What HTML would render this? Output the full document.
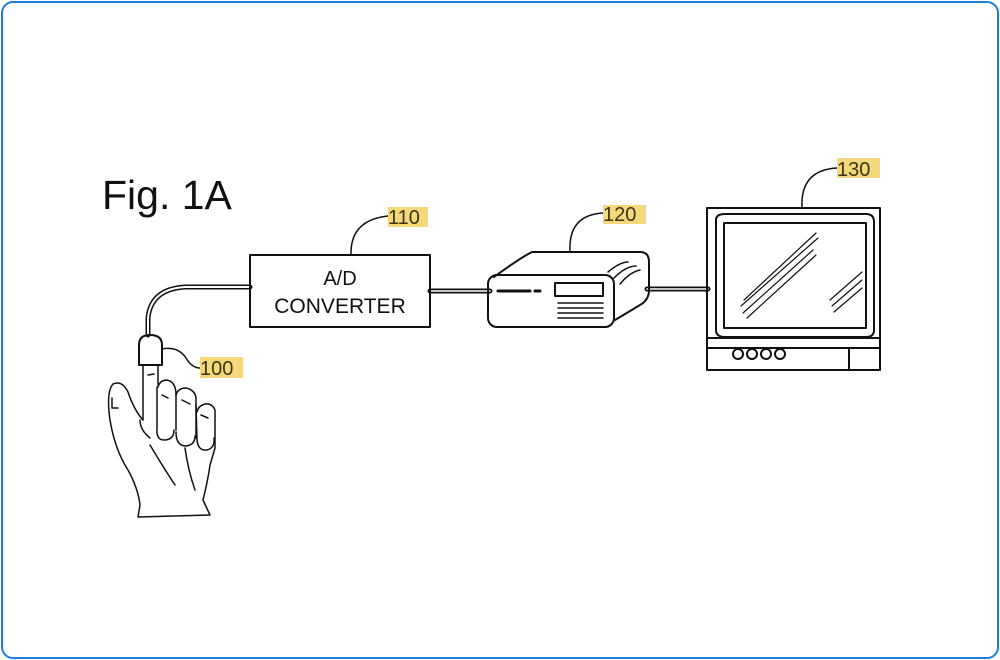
<!DOCTYPE html>
<html><head><style>
html,body{margin:0;padding:0;background:#fff;}
.wrap{position:absolute;left:1px;top:1px;width:994px;height:654px;border:2px solid #1a7fe0;border-radius:12px;background:#fff;}
svg{position:absolute;left:0;top:0;}
text{font-family:"Liberation Sans",sans-serif;}
</style></head><body>
<div class="wrap"></div>
<svg width="1000" height="660" viewBox="0 0 1000 660">
<g fill="none" stroke="#111" stroke-width="2" stroke-linecap="round" stroke-linejoin="round">
<path d="M250 287 L185 287 Q151 289 148 318 L148 335" stroke-width="5"/>
<path d="M250 287 L185 287 Q151 289 148 318 L148 335" stroke="#fff" stroke-width="2"/>
<path d="M430 291 L490 291" stroke-width="5"/><path d="M430 291 L490 291" stroke="#fff" stroke-width="1.5"/>
<path d="M647 289 L708 289" stroke-width="5"/><path d="M647 289 L708 289" stroke="#fff" stroke-width="1.5"/>
<rect x="250" y="255" width="180" height="72"/>
<path d="M351 255 Q350 220 388 216" stroke-width="1.5"/>
<path d="M162 349 Q178 346 186 358 Q192 368 200 368" stroke-width="1.5"/>
<path d="M570 252 Q568 215 603 213" stroke-width="1.5"/>
<path d="M802 208 Q800 170 837 168" stroke-width="1.5"/>
<path d="M139 365 L139 345 Q139 335 150 335 Q162 335 162 345 L162 365 Z"/>
<g stroke-width="1.5">
<path d="M143 365 L143 420 M158 365 L158 385"/>
<path d="M148 375 L154 374"/>
<path d="M143 420 Q134 410 128 392 Q122 380 113 384 Q106 392 110 420 Q115 450 128 470 Q138 488 140 505 L138 517 L210 515 L203 500 Q208 480 210 465 L215 448 L215 410 Q212 403 205 404 Q198 406 197 412"/>
<path d="M112 398 L112 408 L118 408"/>
<path d="M158 387 Q160 380 167 380 Q176 382 176 395 L176 430"/>
<path d="M157 387 L157 428 Q156 440 164 440 Q174 440 174 430"/>
<path d="M176 395 Q178 388 186 388 Q195 390 196 398 L196 438"/>
<path d="M176 432 Q176 446 186 446 Q195 445 195 436"/>
<path d="M196 405 L197 440 Q198 451 207 450 Q215 448 214 438"/>
<path d="M150 445 Q165 470 175 485 M185 448 Q188 470 195 490 M140 420 Q140 430 150 438"/>
<path d="M162 395 L168 398 M182 400 L190 404 M201 415 L208 418"/>
</g>
<path d="M494 277 Q520 258 532 252 L640 252 Q649 252 649 262 L649 290 Q649 300 640 305 L615 320"/>
<rect x="488" y="275" width="126" height="52" rx="9"/>
<rect x="555" y="283" width="48" height="13"/>
<path d="M498 291 L530 291 M535 291 L540 291" stroke-width="3"/>
<path d="M558 303 L603 303 M558 308 L603 308 M558 313 L603 313 M558 318 L603 318" stroke-width="1.5"/>
<path d="M608 272 Q620 262 628 262 M614 278 Q626 266 636 266 M620 284 Q630 272 640 270" stroke-width="1.5"/>
<rect x="707" y="208" width="173" height="162"/>
<path d="M716 220 Q716 214 725 214 L866 214 Q874 214 874 222 L874 330 Q874 337 866 337 L725 337 Q716 337 716 330 Z"/>
<rect x="724" y="223" width="142" height="105"/>
<path d="M707 338 L880 338 M707 348 L880 348 M849 348 L849 370"/>
<circle cx="738" cy="354" r="5"/><circle cx="752" cy="354" r="5"/><circle cx="766" cy="354" r="5"/><circle cx="780" cy="354" r="5"/>
<g stroke-width="1.2">
<path d="M744 300 L816 233 M741 306 L818 238 M743 313 L813 250 M747 318 L816 255"/>
<path d="M830 300 L862 272 M832 306 L862 280 M834 312 L862 288"/>
</g>
</g>
<rect x="388" y="207" width="40" height="20" fill="#f5d879"/>
<rect x="200" y="357" width="43" height="21" fill="#f5d879"/>
<rect x="603" y="205" width="43" height="19" fill="#f5d879"/>
<rect x="837" y="158" width="43" height="20" fill="#f5d879"/>
<g font-size="20" fill="#3b3418">
<text x="388" y="224">110</text>
<text x="200" y="375">100</text>
<text x="603" y="221">120</text>
<text x="837" y="176">130</text>
</g>
<text x="102" y="209" font-size="41" fill="#111">Fig. 1A</text>
<text x="340" y="285" font-size="20" fill="#111" text-anchor="middle">A/D</text>
<text x="340" y="313" font-size="21" fill="#111" text-anchor="middle">CONVERTER</text>
</svg>
</body></html>
